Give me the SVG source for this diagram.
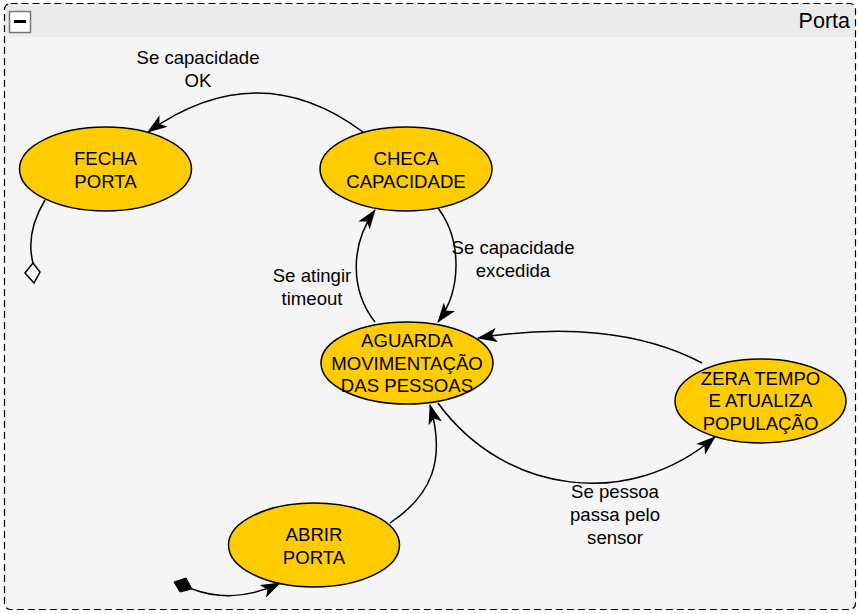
<svg xmlns="http://www.w3.org/2000/svg" width="860" height="614" viewBox="0 0 860 614">
<style>
.node{fill:#ffcc00;stroke:#000;stroke-width:1.5}
.t{font-family:"Liberation Sans",Arial,sans-serif;font-size:18.6px;fill:#000;text-anchor:middle}
.c{fill:none;stroke:#000;stroke-width:1.5}
</style>
<defs>
<marker id="arr" viewBox="0 0 20 14" refX="19" refY="7" markerWidth="20" markerHeight="14" markerUnits="userSpaceOnUse" orient="auto">
<path d="M0,0 L20,7 L0,14 L5,7 Z" fill="#000"/>
</marker>
</defs>
<g id="frame">
<rect x="4.5" y="3.5" width="851" height="606" rx="6" fill="#f5f5f5"/>
<path d="M5,37 V10 Q5,4 11,4 H849 Q855,4 855,10 V37 Z" fill="#ebebeb"/>
<rect x="4.5" y="3.5" width="851" height="606" rx="6" fill="none" stroke="#000" stroke-width="1.2" stroke-dasharray="7,4"/>
<rect x="9.5" y="11.5" width="21" height="21" fill="#fff" stroke="#777" stroke-width="1.5"/>
<rect x="14" y="20" width="12" height="3" fill="#000"/>
<text x="850" y="28" font-family="'Liberation Sans',Arial,sans-serif" font-size="21.5" text-anchor="end">Porta</text>
</g>
<g id="connectors">
<path class="c" d="M363,132 Q258,54 148,132" marker-end="url(#arr)"/>
<path class="c" d="M438,208 C462,240 462,290 438,322" marker-end="url(#arr)"/>
<path class="c" d="M375,322 C350,290 350,245 375,210" marker-end="url(#arr)"/>
<path class="c" d="M702,363 C640,330 560,325 478,338" marker-end="url(#arr)"/>
<path class="c" d="M438,403 C505,495 630,510 715,437" marker-end="url(#arr)"/>
<path class="c" d="M390,523 C432,495 446,460 430,405" marker-end="url(#arr)"/>
<path class="c" d="M192,589 Q235,605 280,583" marker-end="url(#arr)"/>
<path d="M174,582 L186,578 L192,589 L180,592 Z" fill="#000" stroke="#000" stroke-width="1"/>
<path class="c" d="M45,200 C33,220 27,240 33,263"/>
<path d="M25,273 L33,263 L40,272 L34,283 Z" fill="#fff" stroke="#000" stroke-width="1.5"/>
<text class="t" x="198" y="64">Se capacidade</text>
<text class="t" x="198" y="87">OK</text>
<text class="t" x="513" y="254">Se capacidade</text>
<text class="t" x="513" y="277">excedida</text>
<text class="t" x="312" y="282">Se atingir</text>
<text class="t" x="312" y="305">timeout</text>
<text class="t" x="615" y="498">Se pessoa</text>
<text class="t" x="615" y="521">passa pelo</text>
<text class="t" x="615" y="544">sensor</text>
</g>
<g id="fecha">
<ellipse class="node" cx="105.5" cy="169" rx="86" ry="42"/>
<text class="t" x="105.5" y="165">FECHA</text>
<text class="t" x="105.5" y="188">PORTA</text>
</g>
<g id="checa">
<ellipse class="node" cx="406" cy="169" rx="86" ry="42"/>
<text class="t" x="406" y="165">CHECA</text>
<text class="t" x="406" y="188">CAPACIDADE</text>
</g>
<g id="aguarda">
<ellipse class="node" cx="407" cy="363" rx="86" ry="41"/>
<text class="t" x="407" y="347">AGUARDA</text>
<text class="t" x="407" y="369.5">MOVIMENTAÇÃO</text>
<text class="t" x="407" y="392">DAS PESSOAS</text>
</g>
<g id="zera">
<ellipse class="node" cx="760.5" cy="401" rx="85.5" ry="42"/>
<text class="t" x="760.5" y="384.5">ZERA TEMPO</text>
<text class="t" x="760.5" y="407">E ATUALIZA</text>
<text class="t" x="760.5" y="430">POPULAÇÃO</text>
</g>
<g id="abrir">
<ellipse class="node" cx="314" cy="545" rx="85.5" ry="42"/>
<text class="t" x="314" y="541">ABRIR</text>
<text class="t" x="314" y="564">PORTA</text>
</g>
</svg>
